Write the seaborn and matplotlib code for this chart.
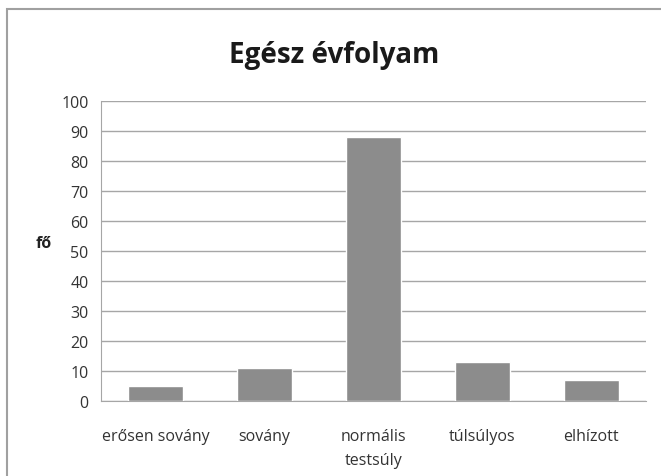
import matplotlib
matplotlib.use("Agg")
import matplotlib.pyplot as plt
import seaborn as sns
import pandas as pd
from matplotlib.patches import Rectangle

categories = ["erősen sovány", "sovány", "normális\ntestsúly", "túlsúlyos", "elhízott"]
values = [5, 11, 88, 13, 7]
yticks = list(range(0, 101, 10))

df = pd.DataFrame({"kategoria": categories, "fo": values})

sns.set_style("white")
plt.rcParams['font.family'] = ['Open Sans', 'DejaVu Sans']

fig = plt.figure(figsize=(6.61, 4.77), dpi=100)
ax = fig.add_axes([0.153, 0.158, 0.824, 0.628])

sns.barplot(data=df, x="kategoria", y="fo", color="#8c8c8c", width=0.5,
            saturation=1, ax=ax, zorder=3)

ax.set_ylim(0, 100)
ax.set_xlim(-0.5, len(categories) - 0.5)
ax.set_yticks(yticks)
ax.yaxis.grid(True, color="#a6a6a6", linewidth=1)
ax.set_axisbelow(True)
ax.tick_params(axis="y", length=5, color="#a6a6a6", labelsize=11.5, labelcolor="#333333", pad=4)
ax.tick_params(axis="x", length=0, labelsize=11.5, labelcolor="#333333", pad=20)
for lbl in ax.get_xticklabels():
    lbl.set_linespacing(1.6)
ax.set_xticks([i - 0.5 for i in range(len(categories) + 1)], minor=True)
ax.tick_params(axis="x", which="minor", length=5, color="#a6a6a6", direction="out")

for s in ["top", "right"]:
    ax.spines[s].set_visible(False)
for s in ["left", "bottom"]:
    ax.spines[s].set_color("#a6a6a6")

ax.set_xlabel("")
ax.set_ylabel("fő", rotation=0, fontsize=11.5, fontweight="bold", color="#222222", labelpad=14)
ax.yaxis.set_label_coords(-0.105, 0.5)

fig.text(0.505, 0.883, "Egész évfolyam", ha="center", va="center",
         fontsize=20, fontweight="bold", color="#1a1a1a")

fig.add_artist(Rectangle((7 / 661, -0.01), 1.0, 1 - 10 / 477 + 0.01, transform=fig.transFigure,
                         fill=False, edgecolor="#a0a0a0", linewidth=1.5))

fig.savefig("out.png", dpi=100)
